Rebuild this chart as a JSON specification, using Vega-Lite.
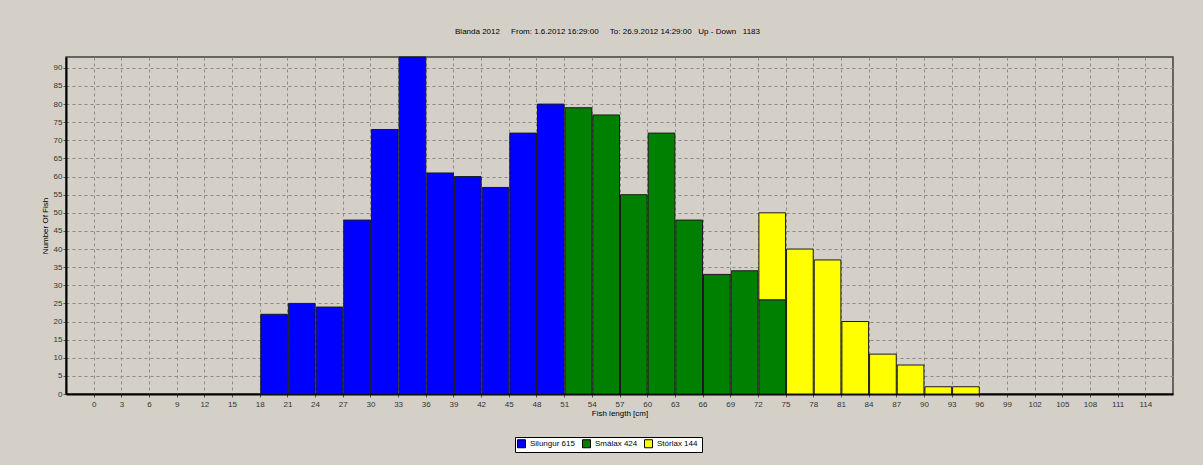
{
  "$schema": "https://vega.github.io/schema/vega-lite/v6.json",
  "autosize": {"type": "none"},
  "width": 1107,
  "height": 337,
  "padding": {"left": 66, "top": 57, "right": 30, "bottom": 71},
  "background": "#D4D0C8",
  "title": {
    "text": "Blanda 2012\u00a0\u00a0\u00a0\u00a0\u00a0From: 1.6.2012 16:29:00\u00a0\u00a0\u00a0\u00a0\u00a0To: 26.9.2012 14:29:00\u00a0\u00a0\u00a0Up - Down\u00a0\u00a0\u00a01183",
    "anchor": "middle",
    "offset": 21,
    "dx": -12,
    "font": "Liberation Sans",
    "fontSize": 8,
    "fontWeight": "normal",
    "color": "#000000"
  },
  "config": {
    "view": {"stroke": "#404040", "strokeWidth": 1.5, "fill": null},
    "axis": {
      "labelFont": "Liberation Sans",
      "labelFontSize": 8,
      "labelColor": "#333333",
      "titleFont": "Liberation Sans",
      "titleFontSize": 8,
      "titleFontWeight": "normal",
      "titleColor": "#000000",
      "domainColor": "#000000",
      "domainWidth": 2,
      "tickColor": "#555555",
      "tickSize": 3,
      "grid": true,
      "gridColor": "#8a8a8a",
      "gridDash": [3, 3],
      "gridWidth": 1
    }
  },
  "data": {
    "values": [
      {"cls": "Silungur", "lo": 18, "hi": 21, "n": 22},
      {"cls": "Silungur", "lo": 21, "hi": 24, "n": 25},
      {"cls": "Silungur", "lo": 24, "hi": 27, "n": 24},
      {"cls": "Silungur", "lo": 27, "hi": 30, "n": 48},
      {"cls": "Silungur", "lo": 30, "hi": 33, "n": 73},
      {"cls": "Silungur", "lo": 33, "hi": 36, "n": 93},
      {"cls": "Silungur", "lo": 36, "hi": 39, "n": 61},
      {"cls": "Silungur", "lo": 39, "hi": 42, "n": 60},
      {"cls": "Silungur", "lo": 42, "hi": 45, "n": 57},
      {"cls": "Silungur", "lo": 45, "hi": 48, "n": 72},
      {"cls": "Silungur", "lo": 48, "hi": 51, "n": 80},
      {"cls": "Smálax", "lo": 51, "hi": 54, "n": 79},
      {"cls": "Smálax", "lo": 54, "hi": 57, "n": 77},
      {"cls": "Smálax", "lo": 57, "hi": 60, "n": 55},
      {"cls": "Smálax", "lo": 60, "hi": 63, "n": 72},
      {"cls": "Smálax", "lo": 63, "hi": 66, "n": 48},
      {"cls": "Smálax", "lo": 66, "hi": 69, "n": 33},
      {"cls": "Smálax", "lo": 69, "hi": 72, "n": 34},
      {"cls": "Smálax", "lo": 72, "hi": 75, "n": 26},
      {"cls": "Stórlax", "lo": 72, "hi": 75, "n": 24},
      {"cls": "Stórlax", "lo": 75, "hi": 78, "n": 40},
      {"cls": "Stórlax", "lo": 78, "hi": 81, "n": 37},
      {"cls": "Stórlax", "lo": 81, "hi": 84, "n": 20},
      {"cls": "Stórlax", "lo": 84, "hi": 87, "n": 11},
      {"cls": "Stórlax", "lo": 87, "hi": 90, "n": 8},
      {"cls": "Stórlax", "lo": 90, "hi": 93, "n": 2},
      {"cls": "Stórlax", "lo": 93, "hi": 96, "n": 2}
    ]
  },
  "mark": {"type": "bar", "orient": "vertical", "stroke": "#1a1a1a", "strokeWidth": 1},
  "encoding": {
    "x": {
      "field": "lo",
      "type": "quantitative",
      "bin": {"binned": true, "step": 3},
      "scale": {"domain": [-3, 117], "nice": false, "zero": false},
      "axis": {
        "title": "Fish length [cm]",
        "grid": true,
        "values": [0,3,6,9,12,15,18,21,24,27,30,33,36,39,42,45,48,51,54,57,60,63,66,69,72,75,78,81,84,87,90,93,96,99,102,105,108,111,114],
        "labelPadding": 3,
        "titlePadding": 1,
        "labelFlush": false,
        "labelOverlap": false,
        "format": "d"
      }
    },
    "x2": {"field": "hi"},
    "y": {
      "field": "n",
      "type": "quantitative",
      "stack": "zero",
      "scale": {"domain": [0, 93], "nice": false},
      "axis": {
        "title": "Number Of Fish",
        "values": [0,5,10,15,20,25,30,35,40,45,50,55,60,65,70,75,80,85,90],
        "labelPadding": 1,
        "titlePadding": 4
      }
    },
    "color": {
      "field": "cls",
      "type": "nominal",
      "scale": {"domain": ["Silungur", "Smálax", "Stórlax"], "range": ["#0000FF", "#008000", "#FFFF00"]},
      "legend": {
        "title": null,
        "orient": "none",
        "legendX": 449,
        "legendY": 380,
        "direction": "horizontal",
        "fillColor": "#FFFFFF",
        "strokeColor": "#000000",
        "padding": 2,
        "symbolType": "square",
        "symbolSize": 64,
        "symbolStrokeColor": "#000000",
        "symbolStrokeWidth": 1,
        "symbolOpacity": 1,
        "labelFont": "Liberation Sans",
        "labelFontSize": 8,
        "labelColor": "#000000",
        "columnPadding": 2,
        "labelExpr": "datum.label == 'Silungur' ? 'Silungur  615' : datum.label == 'Smálax' ? 'Smálax  424' : 'Stórlax  144'"
      }
    },
    "order": {"field": "cls", "sort": "ascending"}
  }
}
